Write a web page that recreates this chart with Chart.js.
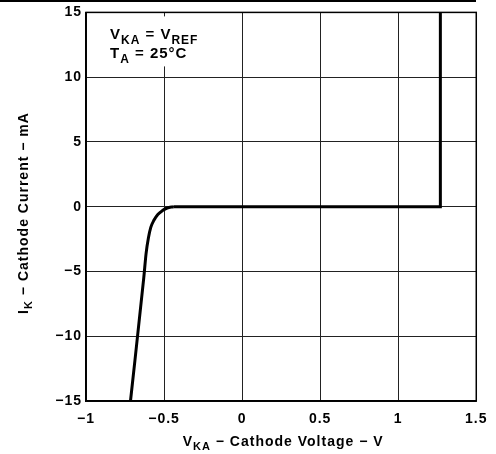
<!DOCTYPE html>
<html>
<head>
<meta charset="utf-8">
<script src="https://cdn.jsdelivr.net/npm/chart.js@4.4.0/dist/chart.umd.min.js"></script>
<style>
    html, body { margin: 0; padding: 0; background: #fff; }
    #wrap { width: 496px; height: 454px; position: relative; }
</style>
</head>
<body>
<div id="wrap"><canvas id="CathodeChart" width="496" height="454"></canvas></div>
<script>
// cathode voltage (V) and cathode current (mA)
// the knee below zero
const kneeVoltage = [-0.715, -0.63, -0.615, -0.6, -0.585, -0.565, -0.54, -0.51, -0.48, -0.44];
const kneeCurrent = [-15, -5.5, -3.6, -2.4, -1.6, -1.05, -0.6, -0.3, -0.1, 0];
// flat part and the breakdown edge
const edgeVoltage = [-0.44, 1.27, 1.27];
const edgeCurrent = [0, 0, 15];

const xTicks = [-1, -0.5, 0, 0.5, 1, 1.5];
const yTicks = [-15, -10, -5, 0, 5, 10, 15];

const FontFamily = "'Liberation Sans', Arial, Helvetica, sans-serif";

function fmt(v) {
    return v < 0 ? '\u2212' + Math.abs(v) : String(v);
}

function toPoints(xs, ys) {
    return xs.map((v, i) => ({ x: v, y: ys[i] }));
}

// draw text made of [text, isSubscript] parts, returns width
function drawParts(ctx, parts, x, y, size, measureOnly) {
    let pos = x;
    for (let p of parts) {
        let sz = p[1] ? Math.round(size * 0.78) : size;
        ctx.font = 'bold ' + sz + 'px ' + FontFamily;
        let w = ctx.measureText(p[0]).width;
        if (!measureOnly)
            ctx.fillText(p[0], pos, p[1] ? y + size * 0.3 : y);
        pos += w;
    }
    return pos - x;
}

const labelsPlugin = {
    id: 'labelsPlugin',
    beforeDraw(chart) {
        chart.ctx.letterSpacing = '1px';
    },
    afterDraw(chart) {
        const ctx = chart.ctx;
        const area = chart.chartArea;
        ctx.save();
        ctx.letterSpacing = '1px';
        ctx.fillStyle = '#000';
        ctx.textBaseline = 'alphabetic';
        ctx.textAlign = 'left';

        // top rule
        ctx.fillRect(0, 0, 476, 2);

        // x title
        let xParts = [['V', false], ['KA', true], [' \u2212 Cathode Voltage \u2212 V', false]];
        let w = drawParts(ctx, xParts, 0, 0, 14, true);
        drawParts(ctx, xParts, (area.left + area.right) / 2 - w / 2 + 2, 446, 14, false);

        // y title
        let yParts = [['I', false], ['K', true], [' \u2212 Cathode Current \u2212 mA', false]];
        ctx.save();
        ctx.translate(28, 0);
        ctx.rotate(-Math.PI / 2);
        w = drawParts(ctx, yParts, 0, 0, 14, true);
        drawParts(ctx, yParts, -213 - w / 2, 0, 14, false);
        ctx.restore();

        // conditions box
        ctx.fillStyle = '#fff';
        ctx.fillRect(area.left + 20, area.top + 4, 100, 50);
        ctx.fillStyle = '#000';
        drawParts(ctx, [['V', false], ['KA', true], [' = V', false], ['REF', true]], area.left + 24, area.top + 27, 15, false);
        drawParts(ctx, [['T', false], ['A', true], [' = 25\u00B0C', false]], area.left + 24, area.top + 46, 15, false);
        ctx.restore();
    }
};

function setUpChart() {
    new Chart(document.getElementById('CathodeChart'), {
        type: 'scatter',
        data: {
            datasets: [{
                data: toPoints(kneeVoltage, kneeCurrent),
                showLine: true,
                borderColor: '#000',
                borderWidth: 3,
                pointRadius: 0,
                cubicInterpolationMode: 'monotone'
            }, {
                data: toPoints(edgeVoltage, edgeCurrent),
                showLine: true,
                borderColor: '#000',
                borderWidth: 3,
                pointRadius: 0,
                tension: 0
            }]
        },
        options: {
            responsive: false,
            animation: false,
            layout: { padding: { top: 1, right: 12, left: 0, bottom: 0 } },
            plugins: { legend: { display: false }, tooltip: { enabled: false } },
            scales: {
                x: {
                    type: 'linear',
                    min: -1, max: 1.5,
                    afterBuildTicks: s => { s.ticks = xTicks.map(v => ({ value: v })); },
                    afterFit: s => { s.height = 53; },
                    grid: { color: '#222', lineWidth: 1, drawTicks: false },
                    border: { color: '#000', width: 1.5 },
                    ticks: {
                        color: '#000', padding: 10, maxRotation: 0,
                        font: { family: FontFamily, size: 14, weight: 'bold' },
                        callback: v => fmt(v)
                    }
                },
                y: {
                    type: 'linear',
                    min: -15, max: 15,
                    afterBuildTicks: s => { s.ticks = yTicks.map(v => ({ value: v })); },
                    afterFit: s => { s.width = 86; },
                    grid: { color: '#222', lineWidth: 1, drawTicks: false },
                    border: { color: '#000', width: 1.5 },
                    ticks: {
                        color: '#000', padding: 4,
                        font: { family: FontFamily, size: 14, weight: 'bold' },
                        callback: v => fmt(v)
                    }
                }
            }
        },
        plugins: [labelsPlugin, {
            id: 'frame',
            afterDatasetsDraw(chart) {
                const a = chart.chartArea, ctx = chart.ctx;
                ctx.save();
                ctx.strokeStyle = '#000';
                ctx.lineWidth = 1.5;
                ctx.strokeRect(a.left, a.top, a.right - a.left, a.bottom - a.top);
                ctx.restore();
            }
        }]
    });
}

window.addEventListener('load', setUpChart);
</script>
</body>
</html>
